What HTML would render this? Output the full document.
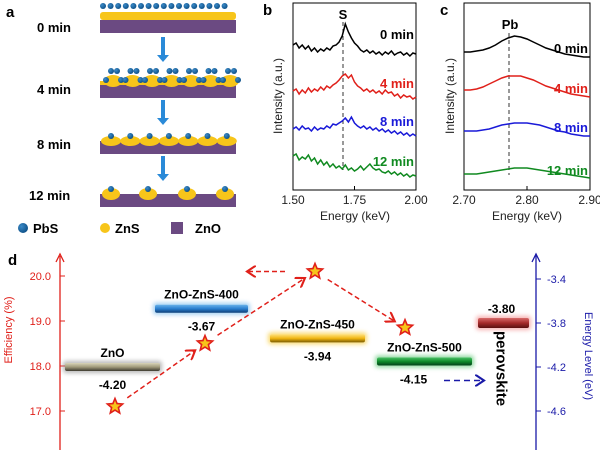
<!DOCTYPE html>
<html><head><meta charset="utf-8"><style>
body{margin:0;background:#fff}
svg{display:block;font-family:"Liberation Sans",Arial,sans-serif}
</style></head><body>
<svg id="fig" width="600" height="450" viewBox="0 0 600 450">
<defs>
<radialGradient id="gb" cx="35%" cy="35%" r="70%"><stop offset="0" stop-color="#3a8ac8"/><stop offset="1" stop-color="#0d4f86"/></radialGradient>
<linearGradient id="gZnO" x1="0" y1="0" x2="0" y2="1"><stop offset="0" stop-color="#d8d4b8"/><stop offset="0.5" stop-color="#a09a7a"/><stop offset="1" stop-color="#3e3b30"/></linearGradient>
<linearGradient id="g400" x1="0" y1="0" x2="0" y2="1"><stop offset="0" stop-color="#6ab3ea"/><stop offset="0.5" stop-color="#2a7fcf"/><stop offset="1" stop-color="#0d3f77"/></linearGradient>
<linearGradient id="g450" x1="0" y1="0" x2="0" y2="1"><stop offset="0" stop-color="#ffe07a"/><stop offset="0.5" stop-color="#f0b512"/><stop offset="1" stop-color="#7a5a00"/></linearGradient>
<linearGradient id="g500" x1="0" y1="0" x2="0" y2="1"><stop offset="0" stop-color="#49c064"/><stop offset="0.5" stop-color="#0e8a2a"/><stop offset="1" stop-color="#04401a"/></linearGradient>
<linearGradient id="gPer" x1="0" y1="0" x2="0" y2="1"><stop offset="0" stop-color="#d86a6a"/><stop offset="0.5" stop-color="#a42a2a"/><stop offset="1" stop-color="#5a1010"/></linearGradient>
<filter id="glow" x="-20%" y="-100%" width="140%" height="300%"><feGaussianBlur stdDeviation="2"/></filter>
<marker id="ar" markerWidth="8" markerHeight="8" refX="6" refY="4" orient="auto"><path d="M0,0 L6,4 L0,8" fill="none" stroke="#e0201a" stroke-width="1.4"/></marker>
<marker id="ab" markerWidth="8" markerHeight="8" refX="6" refY="4" orient="auto"><path d="M0,0 L6,4 L0,8" fill="none" stroke="#1a1aa8" stroke-width="1.4"/></marker>
</defs>

<g id="pa">
<text x="6" y="17" font-size="15" font-weight="bold">a</text>
<text x="37" y="32" font-size="13" font-weight="bold">0 min</text>
<text x="37" y="94" font-size="13" font-weight="bold">4 min</text>
<text x="37" y="149" font-size="13" font-weight="bold">8 min</text>
<text x="29" y="200" font-size="13" font-weight="bold">12 min</text>
<g id="schem"></g>
<g>
<circle cx="23" cy="228" r="5" fill="url(#gb)"/>
<text x="33" y="233" font-size="13" font-weight="bold">PbS</text>
<circle cx="105" cy="228" r="5" fill="#f7c51a"/>
<text x="115" y="233" font-size="13" font-weight="bold">ZnS</text>
<rect x="171" y="222" width="12" height="12" fill="#6b4a82"/>
<text x="195" y="233" font-size="13" font-weight="bold">ZnO</text>
</g>
</g>

<g>
<text x="263" y="15" font-size="15" font-weight="bold">b</text>
<rect x="293" y="3" width="123" height="187" fill="none" stroke="#000" stroke-width="1"/>
<text transform="translate(282,96) rotate(-90)" text-anchor="middle" font-size="12" fill="#222">Intensity (a.u.)</text>
<text x="355" y="220" text-anchor="middle" font-size="12" fill="#222">Energy (keV)</text>
<text x="343" y="19" text-anchor="middle" font-size="13" font-weight="bold">S</text>
<line x1="343" y1="22" x2="343" y2="170" stroke="#333" stroke-dasharray="4,3"/>
<g id="gb-ticks"></g><g id="gb-lines"></g>
</g>

<g>
<text x="440" y="15" font-size="15" font-weight="bold">c</text>
<rect x="464" y="3" width="126" height="187" fill="none" stroke="#000" stroke-width="1"/>
<text transform="translate(454,96) rotate(-90)" text-anchor="middle" font-size="12" fill="#222">Intensity (a.u.)</text>
<text x="527" y="220" text-anchor="middle" font-size="12" fill="#222">Energy (keV)</text>
<text x="510" y="29" text-anchor="middle" font-size="13" font-weight="bold">Pb</text>
<line x1="509" y1="33" x2="509" y2="175" stroke="#333" stroke-dasharray="4,3"/>
<g id="gc-ticks"></g><g id="gc-lines"></g>
</g>

<g>
<text x="8" y="265" font-size="15" font-weight="bold">d</text>
<line x1="60" y1="450" x2="60" y2="256" stroke="#e0201a" stroke-width="1.3"/>
<path d="M56,262 L60,254 L64,262" fill="none" stroke="#e0201a" stroke-width="1.3"/>
<text transform="translate(12,330) rotate(-90)" text-anchor="middle" font-size="11" fill="#e0201a">Efficiency (%)</text>
<line x1="536" y1="450" x2="536" y2="255" stroke="#1a1aa8" stroke-width="1.3"/>
<path d="M532,262 L536,254 L540,262" fill="none" stroke="#1a1aa8" stroke-width="1.3"/>
<text transform="translate(585,356) rotate(90)" text-anchor="middle" font-size="11" fill="#1a1aa8">Energy Level (eV)</text>
<g id="gd"></g>
</g>
</svg>
<script>
const bEnergies = [];
for (let i = 0; i <= 40; i++) bEnergies.push(1.5 + i * 0.0125);
const bTicks = [1.50, 1.75, 2.00];
const bLabels = ["0 min", "4 min", "8 min", "12 min"];
const bColors = ["#000", "#e0201a", "#1a1ad8", "#108a20"];
const bOffsets = [55, 100, 138, 178];
const b0 = [10,12,7,10,6,9,4,7,3,6,4,7,5,9,10,13,19,31,23,17,12,9,5,3,5,2,4,1,3,0,3,1,4,0,2,3,0,2,-1,2,1];
const b4 = [9,11,6,10,7,12,8,11,9,13,10,14,12,15,17,20,24,26,22,25,18,14,12,9,11,8,10,7,9,6,10,7,8,4,6,2,5,3,4,1,3];
const b8 = [9,11,8,12,9,10,7,11,8,10,9,12,10,14,13,15,17,20,16,21,15,12,10,12,9,11,8,10,7,9,6,8,5,7,4,6,3,5,2,4,2];
const b12 = [22,24,18,21,19,23,17,20,14,18,13,16,11,14,10,12,9,13,8,10,7,9,12,8,11,14,10,8,9,6,5,7,4,6,3,5,2,4,1,3,2];
const bSeries = [b0, b4, b8, b12];
const cEnergies = [];
for (let i = 0; i <= 20; i++) cEnergies.push(2.70 + i * 0.01);
const cTicks = [2.70, 2.80, 2.90];
const cOffsets = [57, 97, 136, 179];
const c0 = [5,5,6,7,9,12,16,19,21,20,18,15,12,9,7,5,3,2,1,0,0];
const c4 = [7,7,8,10,13,16,19,21,21,21,19,17,14,11,9,7,5,3,2,1,0];
const c8 = [5,5,5,6,7,9,11,12,13,13,13,12,11,9,7,5,4,2,1,0,0];
const c12 = [5,5,5,6,7,8,9,10,11,11,11,10,9,8,7,6,5,4,3,2,1];
const cSeries = [c0, c4, c8, c12];
const effTicks = [17.0, 18.0, 19.0, 20.0];
const enTicks = [-3.4, -3.8, -4.2, -4.6];
const layerNames = ["ZnO", "ZnO-ZnS-400", "ZnO-ZnS-450", "ZnO-ZnS-500", "perovskite"];
const layerEnergies = [-4.20, -3.67, -3.94, -4.15, -3.80];
const effValues = [17.1, 18.5, 20.1, 18.85];

const NS = "http://www.w3.org/2000/svg";
function mk(tag, attrs, parent, text) {
  const e = document.createElementNS(NS, tag);
  for (const k in attrs) e.setAttribute(k, attrs[k]);
  if (text !== undefined) e.textContent = text;
  parent.appendChild(e);
  return e;
}
const xb = e => 293 + (e - 1.5) / 0.5 * 123;
const xc = e => 464 + (e - 2.7) / 0.2 * 126;
const yEff = v => 366 - (v - 18) * 45;
const yEn = v => 279 + (-3.4 - v) / 0.4 * 44;

const sc = document.getElementById("schem");
const stages = [{y:20},{y:85},{y:141},{y:194}];
const arrowSpans = [[37,62],[100,125],[156,181]];
stages.forEach((s, si) => {
  const r = mk("rect", {x:100, y:s.y, width:136, height:13, fill:"#6b4a82"}, sc);
  
  
  if (si === 0) {
    mk("rect", {x:100, y:12, width:136, height:8, rx:3, fill:"#f7c51a"}, sc);
    for (let x = 103; x <= 232; x += 7.6) mk("circle", {cx:x, cy:6, r:3, fill:"url(#gb)"}, sc);
  } else if (si === 1) {
    mk("rect", {x:100, y:81, width:136, height:4, fill:"#f7c51a"}, sc);
    for (let g = 0; g < 7; g++) {
      const cx = 106 + g * 19.5;
      mk("ellipse", {cx:cx+7, cy:81, rx:9, ry:6, fill:"#f7c51a"}, sc);
      mk("circle", {cx:cx, cy:80, r:3, fill:"url(#gb)"}, sc);
      mk("circle", {cx:cx+5, cy:71, r:3, fill:"url(#gb)"}, sc);
      mk("circle", {cx:cx+11, cy:71, r:3, fill:"url(#gb)"}, sc);
      mk("circle", {cx:cx+15, cy:80, r:3, fill:"url(#gb)"}, sc);
    }
  } else if (si === 2) {
    for (let g = 0; g < 7; g++) {
      const cx = 111 + g * 19.3;
      mk("ellipse", {cx:cx, cy:141, rx:10, ry:5, fill:"#f7c51a"}, sc);
      mk("circle", {cx:cx, cy:136, r:3, fill:"url(#gb)"}, sc);
    }
  } else {
    [111,148,187,225].forEach(cx => {
      mk("ellipse", {cx:cx, cy:194, rx:9, ry:6, fill:"#f7c51a"}, sc);
      mk("circle", {cx:cx, cy:189, r:3, fill:"url(#gb)"}, sc);
    });
  }
  if (si < 3) {
    const a = mk("g", {}, sc);
    
    
    const [y0, y1] = arrowSpans[si];
    mk("line", {x1:163, y1:y0, x2:163, y2:y1-6, stroke:"#2a8ad8", "stroke-width":4}, a);
    mk("path", {d:`M157,${y1-7} L169,${y1-7} L163,${y1}Z`, fill:"#2a8ad8"}, a);
  }
});

const gbt = document.getElementById("gb-ticks");
bTicks.forEach(t => {
  const l = mk("line", {x1:xb(t), y1:190, x2:xb(t), y2:186, stroke:"#000"}, gbt);
  
  
  const tx = mk("text", {x:xb(t), y:204, "text-anchor":"middle", "font-size":12, fill:"#222"}, gbt, t.toFixed(2));
  
  
});
const gbl = document.getElementById("gb-lines");
bSeries.forEach((s, si) => {
  const d = s.map((v, i) => (i ? "L" : "M") + xb(bEnergies[i]).toFixed(1) + "," + (bOffsets[si] - v)).join(" ");
  const p = mk("path", {d:d, fill:"none", stroke:bColors[si], "stroke-width":1.5}, gbl);
  
  
  const t = mk("text", {x:414, y:bOffsets[si] - 12 - (si===0?4:0), "text-anchor":"end", "font-size":13, "font-weight":"bold", fill:bColors[si]}, gbl, bLabels[si]);
  
  
});
const gct = document.getElementById("gc-ticks");
cTicks.forEach(t => {
  const l = mk("line", {x1:xc(t), y1:190, x2:xc(t), y2:186, stroke:"#000"}, gct);
  
  
  const tx = mk("text", {x:xc(t), y:204, "text-anchor":"middle", "font-size":12, fill:"#222"}, gct, t.toFixed(2));
  
  
});
const gcl = document.getElementById("gc-lines");
cSeries.forEach((s, si) => {
  const d = s.map((v, i) => (i ? "L" : "M") + xc(cEnergies[i]).toFixed(1) + "," + (cOffsets[si] - v)).join(" ");
  const p = mk("path", {d:d, fill:"none", stroke:bColors[si], "stroke-width":1.5}, gcl);
  
  
  const t = mk("text", {x:588, y:cOffsets[si] - 4, "text-anchor":"end", "font-size":13, "font-weight":"bold", fill:bColors[si]}, gcl, bLabels[si]);
  
  
});

const gd = document.getElementById("gd");
effTicks.forEach(v => {
  const l = mk("line", {x1:60, y1:yEff(v), x2:65, y2:yEff(v), stroke:"#e0201a"}, gd);
  
  
  const t = mk("text", {x:51, y:yEff(v)+4, "text-anchor":"end", "font-size":11, fill:"#e0201a"}, gd, v.toFixed(1));
  
  
});
enTicks.forEach(v => {
  const l = mk("line", {x1:536, y1:yEn(v), x2:541, y2:yEn(v), stroke:"#1a1aa8"}, gd);
  
  
  const t = mk("text", {x:547, y:yEn(v)+4, "font-size":11, fill:"#1a1aa8"}, gd, v.toFixed(1));
  
  
});
const barX = [[65,160],[155,248],[270,365],[377,472],[478,529]];
const grads = ["url(#gZnO)","url(#g400)","url(#g450)","url(#g500)","url(#gPer)"];
const glows = ["#888","#6ab3ea","#f7c51a","#49c064","#f08080"];
layerEnergies.forEach((e, i) => {
  const y = yEn(e);
  const [x0, x1] = barX[i];
  const h = i === 4 ? 10 : 8;
  mk("rect", {x:x0-2, y:y-h/2-2, width:x1-x0+4, height:h+4, rx:3, fill:glows[i], opacity:0.6, filter:"url(#glow)"}, gd);
  const b = mk("rect", {x:x0, y:y-h/2, width:x1-x0, height:h, rx:2, fill:grads[i]}, gd);
  
  
  const cx = (x0 + x1) / 2;
  const v = mk("text", {x: i===3 ? cx-11 : (i===4 ? cx-2 : cx), y: i===4 ? y-10 : y+22, "text-anchor":"middle", "font-size":12, "font-weight":"bold"}, gd, e.toFixed(2));
  
  
  let n;
  if (i === 4) {
    n = mk("text", {transform:`translate(${cx-7},${y+8}) rotate(90)`, "font-size":15, "font-weight":"bold"}, gd, layerNames[i]);
  } else {
    n = mk("text", {x:cx, y:y-10, "text-anchor":"middle", "font-size":12, "font-weight":"bold"}, gd, layerNames[i]);
  }
  
  
});
const starX = [115, 205, 315, 405];
function starPath(cx, cy, R, r) {
  let d = "";
  for (let k = 0; k < 10; k++) {
    const a = -Math.PI/2 + k * Math.PI/5, rr = k % 2 ? r : R;
    d += (k ? "L" : "M") + (cx + rr*Math.cos(a)).toFixed(1) + "," + (cy + rr*Math.sin(a)).toFixed(1);
  }
  return d + "Z";
}
for (let i = 0; i < effValues.length - 1; i++) {
  const xa = starX[i], ya = yEff(effValues[i]), xb2 = starX[i+1], yb = yEff(effValues[i+1]);
  const dx = xb2 - xa, dy = yb - ya, L = Math.hypot(dx, dy);
  const l = mk("line", {x1:xa+dx/L*15, y1:ya+dy/L*15, x2:xb2-dx/L*12, y2:yb-dy/L*12, stroke:"#e0201a", "stroke-width":1.5, "stroke-dasharray":"5,3", "marker-end":"url(#ar)"}, gd);
  
  
}
const la = mk("line", {x1:285, y1:yEff(effValues[2]), x2:247, y2:yEff(effValues[2]), stroke:"#e0201a", "stroke-width":1.5, "stroke-dasharray":"5,3", "marker-end":"url(#ar)"}, gd);


const ba = mk("line", {x1:444, y1:yEn(layerEnergies[3])+19, x2:484, y2:yEn(layerEnergies[3])+19, stroke:"#1a1aa8", "stroke-width":1.5, "stroke-dasharray":"6,4", "marker-end":"url(#ab)"}, gd);


effValues.forEach((v, i) => {
  const s = mk("path", {d:starPath(starX[i], yEff(v), 8, 3.6), fill:"#f7c51a", stroke:"#e0201a", "stroke-width":1.6}, gd);
  
  
});
</script>
</body></html>
